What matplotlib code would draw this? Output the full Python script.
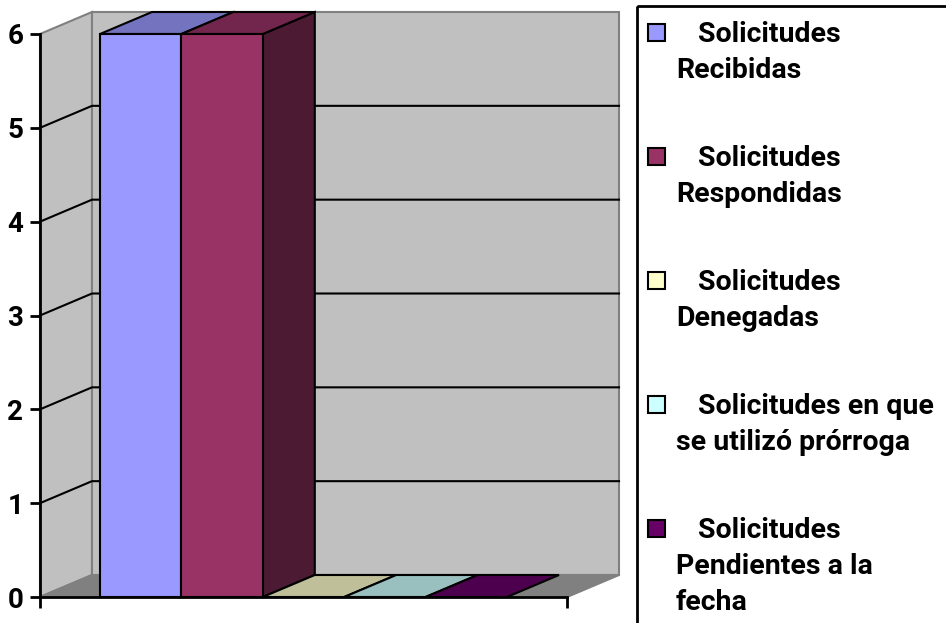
import matplotlib
matplotlib.use('Agg')
import matplotlib.pyplot as plt
from matplotlib.patches import Polygon, Rectangle
from matplotlib import transforms

plt.rcParams['font.family'] = ['Roboto', 'DejaVu Sans']
plt.rcParams['font.weight'] = 'bold'

# datos
values = [6, 6, 0, 0, 0]
legend_lines = [
    ["Solicitudes", "Recibidas"],
    ["Solicitudes", "Respondidas"],
    ["Solicitudes", "Denegadas"],
    ["Solicitudes en que", "se utilizó prórroga"],
    ["Solicitudes", "Pendientes a la", "fecha"],
]
front_colors = ['#9999FF', '#993366', '#FFFFCC', '#CCFFFF', '#660066']
top_colors = ['#7373BF', '#73264D', '#BFBF99', '#99BFBF', '#4D004D']
side_colors = ['#4D4D80', '#4D1A33', '#80806A', '#668080', '#330033']
yticks = [0, 1, 2, 3, 4, 5, 6]

W, H = 946, 623
fig = plt.figure(figsize=(W / 100, H / 100), dpi=100)
ax = fig.add_axes([40 / W, 26 / H, 527 / W, 563 / H])
ax.set_xlim(-1.237, 5.237)
ax.set_ylim(0, 6)
x0, x1 = ax.get_xlim()
ymax = ax.get_ylim()[1]

# profundidad (52 px a la derecha, 22 px arriba) en unidades de datos
inv = ax.transData.inverted()
o = ax.transData.transform((0, 0))
dx, dy = inv.transform(o + [52, 22]) - inv.transform(o)

wall = '#C0C0C0'
edge = '#808080'
ax.add_patch(Polygon([(x0, 0), (x0 + dx, dy), (x0 + dx, ymax + dy), (x0, ymax)],
                     fc=wall, ec=edge, lw=1.5, clip_on=False, zorder=0.5))
ax.add_patch(Polygon([(x0 + dx, dy), (x1 + dx, dy), (x1 + dx, ymax + dy), (x0 + dx, ymax + dy)],
                     fc=wall, ec=edge, lw=1.5, clip_on=False, zorder=0.5))
ax.add_patch(Polygon([(x0, 0), (x1, 0), (x1 + dx, dy), (x0 + dx, dy)],
                     fc='#808080', ec=edge, lw=1.5, clip_on=False, zorder=0.6))

for v in yticks[1:-1]:
    ax.plot([x0, x0 + dx, x1 + dx], [v, v + dy, v + dy], color='black', lw=1.5,
            clip_on=False, zorder=0.8)

# barras 3D
for i, v in enumerate(values):
    z = 2 + i * 0.1
    xl, xr = i - 0.5, i + 0.5
    if v > 0:
        ax.add_patch(Polygon([(xr, 0), (xr + dx, dy), (xr + dx, v + dy), (xr, v)],
                             fc=side_colors[i], ec='black', lw=1.5, clip_on=False, zorder=z))
    ax.add_patch(Polygon([(xl, v), (xr, v), (xr + dx, v + dy), (xl + dx, v + dy)],
                         fc=top_colors[i], ec='black', lw=1.5, clip_on=False, zorder=z + 0.01))
    if v > 0:
        ax.bar(i, v, width=1, color=front_colors[i], edgecolor='black', lw=1.5,
               zorder=z + 0.02, clip_on=False)

for s in ['top', 'right']:
    ax.spines[s].set_visible(False)
for s in ['left', 'bottom']:
    ax.spines[s].set_linewidth(2)
    ax.spines[s].set_zorder(5)
ax.set_facecolor('none')
ax.set_yticks(yticks)
ax.set_yticklabels([str(t) for t in yticks], fontsize=20, fontweight='bold')
ax.tick_params(axis='y', length=7, width=2, pad=5)
ax.set_xticks([x0, x1])
ax.set_xticklabels(['', ''])
ax.tick_params(axis='x', length=8, width=2)

# leyenda
T = transforms.Affine2D().scale(1, -1).translate(0, H)
fig.add_artist(Rectangle((637, 6), 400, 700, fill=False, ec='black', lw=2, transform=T))
for i, lines in enumerate(legend_lines):
    cy = 32 + 124 * i
    fig.add_artist(Rectangle((648, cy - 8.5), 17, 17, fc=front_colors[i], ec='black',
                             lw=1.5, transform=T))
    fig.text(698, cy + 10, lines[0], transform=T, va='baseline', ha='left',
             fontsize=20.5, fontweight='bold')
    for k, line in enumerate(lines[1:]):
        fig.text(676, cy + 10 + 36 * (k + 1), line, transform=T, va='baseline', ha='left',
                 fontsize=20.5, fontweight='bold')

fig.savefig('out.png', dpi=100)
